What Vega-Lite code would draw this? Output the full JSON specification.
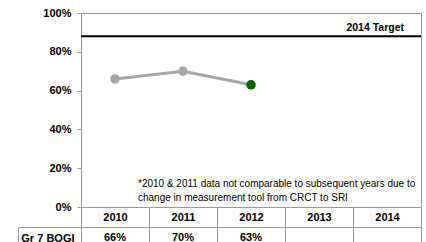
{
  "$schema": "https://vega.github.io/schema/vega-lite/v6.json",
  "padding": {"left": 17, "top": 6, "right": 5, "bottom": 0},
  "background": "white",
  "config": {
    "view": {"stroke": "#999999", "strokeWidth": 1},
    "font": "Liberation Sans",
    "axis": {"labelFont": "Liberation Sans", "labelFontWeight": "bold", "labelFontSize": 11, "labelColor": "#000000", "domainColor": "#999999", "tickColor": "#999999", "title": null, "grid": false, "labelOverlap": false, "labelBound": false, "labelFlush": false}
  },
  "datasets": {
    "scores": [
      {"row": "Gr 7 BOGI", "year": "2010", "value": 0.66},
      {"row": "Gr 7 BOGI", "year": "2011", "value": 0.70},
      {"row": "Gr 7 BOGI", "year": "2012", "value": 0.63}
    ],
    "target": [
      {"label": "2014 Target", "target": 0.88}
    ],
    "note": [
      {"text": "*2010 & 2011 data not comparable to subsequent years due to\nchange in measurement tool from CRCT to SRI"}
    ]
  },
  "spacing": 20,
  "bounds": "flush",
  "vconcat": [
    {
      "width": 340,
      "height": 194,
      "resolve": {"axis": {"y": "shared"}},
      "encoding": {
        "y": {"type": "quantitative", "scale": {"domain": [0, 1], "nice": false, "zero": true},
          "axis": {"values": [0, 0.2, 0.4, 0.6, 0.8, 1], "tickCount": 6, "format": ".0%", "tickSize": 4, "labelPadding": 6, "labelOverlap": false}}
      },
      "layer": [
        {
          "data": {"name": "scores"},
          "mark": {"type": "line", "color": "#A6A6A6", "strokeWidth": 3},
          "encoding": {
            "x": {"field": "year", "type": "nominal", "scale": {"type": "band", "domain": ["2010", "2011", "2012", "2013", "2014"], "paddingInner": 0, "paddingOuter": 0},
              "axis": {"orient": "bottom", "labelAngle": 0, "tickBand": "extent", "tickSize": 20, "labelPadding": -16}},
            "y": {"field": "value"}
          }
        },
        {
          "data": {"name": "scores"},
          "mark": {"type": "circle", "size": 90, "opacity": 1},
          "encoding": {
            "x": {"field": "year", "type": "nominal"},
            "y": {"field": "value"},
            "color": {"condition": {"test": "datum.year === '2012'", "value": "#006400"}, "value": "#A6A6A6"}
          }
        },
        {
          "data": {"name": "target"},
          "mark": {"type": "rule", "color": "#000000", "strokeWidth": 2},
          "encoding": {"y": {"field": "target"}}
        },
        {
          "data": {"name": "target"},
          "mark": {"type": "text", "align": "right", "baseline": "alphabetic", "dx": 17, "dy": -5, "fontWeight": "bold", "fontSize": 10.5, "font": "Liberation Sans"},
          "encoding": {
            "x": {"datum": "2014"},
            "y": {"field": "target"},
            "text": {"field": "label"}
          }
        },
        {
          "data": {"name": "note"},
          "mark": {"type": "text", "align": "left", "baseline": "middle", "lineBreak": "\n", "lineHeight": 14, "dx": 23, "fontSize": 10, "font": "Liberation Sans", "color": "#000000"},
          "encoding": {
            "x": {"datum": "2010"},
            "y": {"datum": 0.12, "type": "quantitative"},
            "text": {"field": "text"}
          }
        }
      ]
    },
    {
      "width": 340,
      "height": 22,
      "data": {"name": "scores"},
      "mark": {"type": "text", "fontWeight": "bold", "fontSize": 11, "font": "Liberation Sans", "color": "#000000"},
      "encoding": {
        "x": {"field": "year", "type": "nominal", "scale": {"type": "band", "domain": ["2010", "2011", "2012", "2013", "2014"], "paddingInner": 0, "paddingOuter": 0},
          "axis": {"orient": "bottom", "labels": false, "ticks": false, "domain": false, "grid": true, "gridColor": "#999999", "tickBand": "extent"}},
        "y": {"field": "row", "type": "nominal", "scale": {"type": "band", "paddingInner": 0, "paddingOuter": 0},
          "axis": {"orient": "left", "offset": 63, "tickSize": -63, "labelPadding": 7, "tickBand": "extent", "domain": true}},
        "text": {"field": "value", "type": "quantitative", "format": ".0%"}
      }
    }
  ]
}
